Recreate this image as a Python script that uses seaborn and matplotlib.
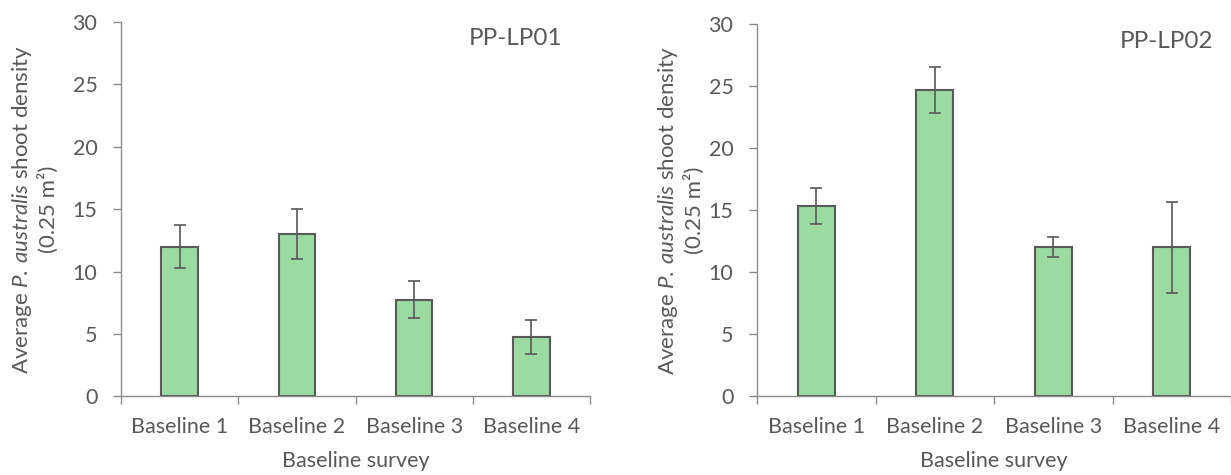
import matplotlib
matplotlib.use("Agg")
import matplotlib.pyplot as plt
import seaborn as sns
import pandas as pd
from matplotlib.ticker import FixedLocator, NullFormatter

# Mean shoot density per baseline survey, with standard errors
surveys = ["Baseline 1", "Baseline 2", "Baseline 3", "Baseline 4"]
lp01_mean = [12.0, 13.0, 7.75, 4.75]
lp01_err = [1.73, 2.0, 1.5, 1.37]
lp02_mean = [15.33, 24.67, 12.0, 12.0]
lp02_err = [1.45, 1.85, 0.82, 3.66]
sites = ["PP-LP01", "PP-LP02"]
y_ticks = [0, 5, 10, 15, 20, 25, 30]

sns.set_theme(style="white")
FONT = "Lato"
plt.rcParams["font.family"] = [FONT, "DejaVu Sans"]
plt.rcParams["mathtext.fontset"] = "custom"
plt.rcParams["mathtext.rm"] = FONT
plt.rcParams["mathtext.it"] = f"{FONT}:italic"

TEXT = "#595959"
AXIS = "#8c8c8c"
EDGE = "#595959"
FILL = "#9bdba1"
TICK_FS = 15.5

fig = plt.figure(figsize=(12.31, 4.75), dpi=100)
ax_left = fig.add_axes([0.0983, 0.1653, 0.381, 0.7884])
ax_right = fig.add_axes([0.615, 0.1663, 0.385, 0.7832])

panels = [
    (ax_left, lp01_mean, lp01_err, sites[0], 0.942, 0.957, -0.185),
    (ax_right, lp02_mean, lp02_err, sites[1], 0.962, 0.952, -0.162),
]

ylabel = "Average $\\mathit{P.}\\:\\mathit{australis}$ shoot density\n(0.25 m²)"

for ax, means, errs, site, title_x, title_y, ylab_x in panels:
    df = pd.DataFrame({"survey": surveys, "density": means})
    sns.barplot(data=df, x="survey", y="density", order=surveys, ax=ax,
                color=FILL, saturation=1, width=0.31,
                edgecolor=EDGE, linewidth=1.5, errorbar=None)
    xs = [p.get_x() + p.get_width() / 2 for p in ax.patches]
    ax.errorbar(xs, means, yerr=errs, fmt="none", ecolor=EDGE,
                elinewidth=1.2, capsize=4.5, capthick=1.2, zorder=5)

    ax.set_ylim(0, 30)
    ax.set_xlim(-0.5, len(surveys) - 0.5)
    ax.yaxis.set_major_locator(FixedLocator(y_ticks))

    # Category boundaries carry the tick marks, labels sit at the centres
    ax.xaxis.set_major_locator(FixedLocator([i - 0.5 for i in range(len(surveys) + 1)]))
    ax.xaxis.set_major_formatter(NullFormatter())
    ax.xaxis.set_minor_locator(FixedLocator(list(range(len(surveys)))))
    ax.set_xticklabels(surveys, minor=True)
    ax.tick_params(axis="x", which="major", direction="out", length=6,
                   width=1.0, color=AXIS, bottom=True)
    ax.tick_params(axis="x", which="minor", length=0, pad=15,
                   labelsize=TICK_FS, labelcolor=TEXT)
    ax.tick_params(axis="y", direction="out", length=6, width=1.0,
                   color=AXIS, left=True, pad=11, labelsize=TICK_FS,
                   labelcolor=TEXT)

    for side in ("top", "right"):
        ax.spines[side].set_visible(False)
    for side in ("left", "bottom"):
        ax.spines[side].set_color(AXIS)
        ax.spines[side].set_linewidth(1.0)

    ax.set_xlabel("Baseline survey", fontsize=TICK_FS, color=TEXT, labelpad=10)
    ax.set_ylabel(ylabel, fontsize=16, color=TEXT, linespacing=1.2)
    ax.yaxis.label.set_verticalalignment("center")
    ax.yaxis.set_label_coords(ylab_x, 0.5)
    ax.text(title_x, title_y, site, transform=ax.transAxes, ha="right",
            va="center", fontsize=17.5, color=TEXT)

fig.savefig("out.png", dpi=100)
